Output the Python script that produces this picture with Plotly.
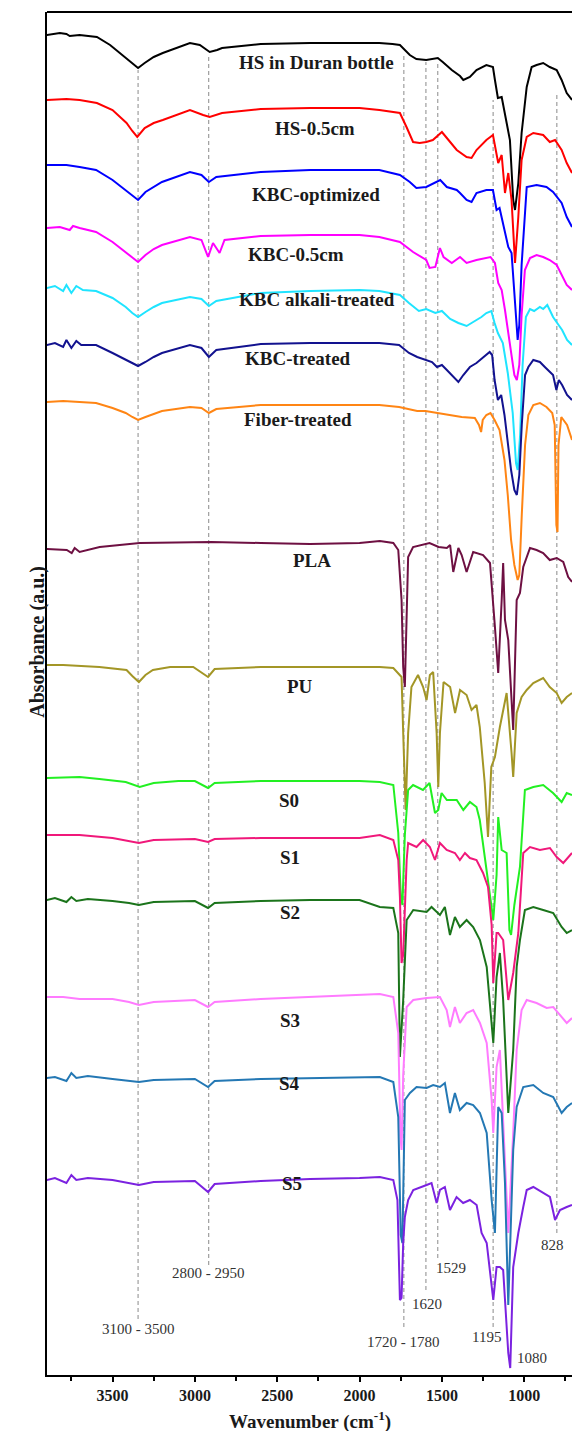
import plotly.graph_objects as go

# ---- data: wavenumber (cm-1) and stacked absorbance (a.u.) ----
hs_duran_x = [3900,3820,3780,3760,3700,3595,3515,3440,3380,3345,3305,3250,3195,3030,2970,2910,2865,2835,2600,2300,2000,1880,1800,1755,1695,1655,1595,1525,1495,1440,1390,1370,1330,1290,1230,1190,1178,1160,1137,1117,1087,1067,1056,1036,1016,985,955,925,885,845,803,773,742,710]
hs_duran_y = [1340,1342,1341,1339,1340,1338,1330,1320,1312,1307,1312,1318,1322,1332,1330,1323,1325,1327,1331,1332,1332,1332,1331,1330,1320,1316,1315,1317,1313,1305,1299,1295,1298,1305,1310,1308,1295,1277,1278,1262,1235,1175,1165,1192,1242,1288,1308,1310,1312,1308,1305,1295,1282,1275]

hs05_x = [3900,3780,3700,3595,3500,3415,3380,3350,3305,3250,3195,3030,2950,2910,2835,2600,2300,2000,1880,1795,1755,1715,1675,1635,1595,1555,1500,1470,1410,1350,1320,1290,1230,1190,1168,1158,1137,1117,1097,1077,1056,1036,1016,985,945,885,845,813,773,742,710]
hs05_y = [1275,1276,1275,1272,1265,1252,1244,1238,1247,1252,1255,1265,1260,1258,1262,1266,1267,1267,1265,1263,1262,1248,1233,1232,1233,1235,1243,1237,1225,1218,1217,1225,1235,1240,1222,1212,1220,1182,1202,1175,1112,1158,1215,1238,1242,1240,1233,1235,1225,1212,1202]

kbc_opt_x = [3900,3780,3700,3600,3500,3420,3380,3345,3300,3250,3200,3030,2960,2915,2870,2600,2300,2000,1880,1755,1695,1655,1595,1510,1470,1410,1390,1350,1320,1290,1230,1190,1168,1150,1117,1097,1077,1056,1040,1030,1016,985,925,865,825,773,742,710]
kbc_opt_y = [1210,1210,1208,1205,1195,1185,1180,1175,1183,1188,1193,1203,1200,1193,1198,1203,1205,1205,1205,1200,1193,1187,1188,1195,1188,1185,1182,1175,1173,1182,1185,1185,1165,1167,1142,1128,1122,1075,1035,1050,1110,1188,1190,1188,1183,1172,1158,1148]

kbc05_x = [3900,3820,3760,3740,3700,3600,3500,3420,3380,3345,3300,3250,3200,3030,2960,2920,2890,2850,2820,2600,2300,2000,1880,1755,1675,1595,1575,1540,1512,1490,1440,1390,1350,1290,1205,1178,1158,1137,1117,1090,1060,1045,1030,1016,996,965,925,885,845,803,773,742,710]
kbc05_y = [1147,1148,1145,1149,1147,1143,1133,1123,1118,1113,1120,1126,1130,1138,1135,1118,1132,1122,1135,1139,1140,1140,1138,1133,1123,1115,1107,1108,1127,1118,1112,1118,1112,1115,1118,1112,1092,1085,1065,1035,1000,995,1010,1060,1105,1117,1120,1118,1115,1110,1100,1090,1085]

kbc_alk_x = [3900,3850,3800,3780,3750,3720,3680,3600,3500,3420,3380,3345,3300,3250,3200,3030,2960,2915,2870,2600,2300,2000,1880,1755,1700,1640,1595,1540,1500,1450,1400,1350,1300,1260,1230,1200,1180,1160,1130,1100,1070,1050,1040,1025,1010,990,965,940,905,885,860,825,800,770,740,710]
kbc_alk_y = [1087,1089,1084,1090,1082,1089,1085,1084,1077,1068,1062,1058,1063,1068,1072,1078,1076,1069,1074,1082,1084,1085,1084,1080,1072,1064,1066,1062,1064,1056,1052,1049,1054,1058,1062,1064,1052,1042,1032,1002,962,912,905,940,1010,1058,1066,1064,1068,1066,1070,1058,1052,1045,1035,1030]

kbc_tr_x = [3900,3850,3800,3780,3750,3720,3690,3600,3500,3420,3380,3345,3300,3250,3200,3030,2960,2915,2870,2600,2300,2000,1880,1760,1700,1650,1600,1560,1530,1500,1470,1420,1400,1370,1330,1290,1250,1210,1195,1180,1160,1140,1120,1100,1080,1060,1045,1030,1015,995,975,945,905,875,845,825,805,790,770,740,710]
kbc_tr_y = [1030,1032,1028,1035,1027,1034,1030,1030,1022,1015,1012,1009,1013,1018,1022,1030,1027,1018,1025,1031,1032,1032,1032,1030,1022,1018,1015,1013,1008,1010,1005,997,993,1000,1008,1012,1018,1023,1020,995,975,980,960,930,905,885,880,900,950,1000,1008,1015,1013,1008,1003,1000,985,995,990,980,975]

fiber_x = [3900,3800,3700,3600,3500,3420,3380,3345,3300,3250,3200,3030,2960,2915,2870,2600,2300,2000,1880,1760,1700,1650,1600,1530,1450,1380,1300,1275,1262,1252,1230,1205,1180,1150,1120,1100,1080,1060,1040,1030,1015,995,975,945,905,865,830,815,805,798,792,775,740,710]
fiber_y = [973,974,973,972,967,962,958,955,958,961,964,968,967,962,966,970,970,970,970,968,966,964,964,962,960,958,957,950,943,955,960,962,955,945,915,880,835,810,795,800,860,930,960,970,972,968,962,950,850,843,930,958,950,935]

pla_x = [3900,3778,3748,3730,3700,3657,3578,3335,3013,2900,2600,2300,2000,1877,1795,1765,1745,1735,1725,1714,1705,1675,1575,1520,1470,1450,1431,1400,1380,1350,1310,1250,1208,1178,1158,1137,1128,1117,1097,1077,1067,1046,1026,1006,965,925,885,845,803,763,733,710]
pla_y = [826,825,822,827,823,825,828,832,833,833,832,831,832,834,832,825,775,708,688,775,818,828,832,828,827,830,803,827,820,803,823,820,812,748,702,775,812,755,735,675,645,775,782,808,827,825,822,815,817,813,798,793]

pu_x = [3900,3800,3580,3415,3380,3340,3300,3255,3150,3010,2920,2880,2600,2300,2000,1877,1795,1745,1735,1720,1705,1685,1645,1614,1593,1573,1553,1532,1522,1512,1490,1450,1420,1390,1350,1320,1290,1270,1240,1220,1200,1178,1148,1107,1077,1067,1046,1016,985,945,885,845,803,773,742,710]
pu_y = [710,710,708,705,699,693,700,705,708,708,698,706,708,708,708,708,707,698,642,565,642,688,700,688,675,700,703,642,588,642,693,688,662,685,680,665,670,648,592,538,608,618,648,682,622,598,662,678,685,692,697,688,682,672,678,682]

s0_x = [3900,3700,3580,3420,3335,3250,3100,3000,2920,2880,2600,2300,2000,1877,1795,1765,1750,1740,1725,1705,1675,1615,1575,1542,1522,1502,1470,1410,1370,1330,1290,1270,1230,1200,1188,1168,1158,1137,1107,1090,1080,1060,1026,996,945,885,825,773,742,710]
s0_y = [597,598,596,593,588,592,594,594,587,592,594,594,594,593,590,542,480,470,540,585,590,585,592,562,565,582,575,575,565,573,568,555,508,470,455,500,558,525,522,445,440,470,508,585,588,590,582,573,582,580]

s1_x = [3900,3700,3500,3400,3340,3250,3000,2920,2880,2600,2300,2000,1877,1795,1765,1755,1745,1735,1714,1705,1654,1614,1573,1542,1512,1471,1421,1391,1360,1330,1290,1250,1220,1198,1188,1168,1158,1128,1097,1067,1036,1006,965,905,844,803,763,710]
s1_y = [540,540,537,534,532,535,536,533,536,537,537,537,540,535,515,478,412,420,515,532,528,535,528,515,532,525,522,515,522,517,515,502,488,450,392,442,442,435,375,402,442,522,528,525,527,518,512,522]

s2_x = [3900,3850,3780,3750,3720,3650,3500,3400,3340,3250,3000,2920,2880,2600,2300,2000,1877,1795,1765,1755,1735,1714,1674,1593,1563,1512,1482,1451,1421,1391,1350,1310,1269,1228,1188,1168,1148,1128,1097,1067,1046,1026,996,945,885,824,773,742,710]
s2_y = [475,477,473,478,474,476,474,472,470,473,474,467,472,474,475,475,468,467,442,318,375,455,465,463,468,460,468,440,458,448,455,448,435,408,332,398,422,375,262,325,408,435,465,468,465,462,448,442,445]

s3_x = [3900,3800,3700,3500,3400,3340,3250,3000,2920,2880,2600,2300,2000,1877,1795,1765,1752,1745,1735,1714,1674,1593,1512,1471,1451,1421,1391,1350,1310,1269,1228,1198,1188,1168,1148,1128,1097,1067,1046,1016,985,925,864,824,773,742,710]
s3_y = [378,378,376,376,373,370,373,375,368,373,376,378,380,381,378,342,240,225,300,368,375,377,378,365,348,368,352,362,365,352,332,275,242,308,325,258,142,242,325,365,375,372,367,368,358,352,357]

s4_x = [3900,3850,3780,3750,3720,3650,3500,3400,3340,3250,3000,2920,2880,2600,2300,2000,1877,1795,1765,1750,1740,1725,1694,1654,1593,1553,1512,1482,1451,1421,1391,1350,1310,1269,1228,1198,1178,1158,1137,1117,1097,1067,1046,1006,945,885,824,773,742,710]
s4_y = [297,298,294,302,297,299,296,294,293,295,296,288,294,296,297,298,298,293,258,140,132,275,282,288,287,290,288,292,262,282,265,272,270,262,242,175,142,268,262,192,70,225,268,288,290,282,278,262,268,272]

s5_x = [3900,3850,3780,3750,3720,3650,3500,3400,3340,3250,3000,2920,2880,2600,2300,2000,1877,1795,1770,1755,1745,1735,1725,1705,1674,1593,1563,1532,1512,1482,1451,1411,1371,1330,1289,1259,1228,1188,1168,1148,1128,1097,1085,1067,1036,1006,985,945,885,844,813,783,742,710]
s5_y = [195,197,192,200,195,197,195,192,190,193,194,183,191,194,196,197,198,195,175,75,77,132,158,175,185,190,192,172,185,188,165,178,172,175,170,142,132,75,108,108,105,22,7,108,142,168,185,188,182,178,155,165,168,170]

names = ["HS in Duran bottle", "HS-0.5cm", "KBC-optimized", "KBC-0.5cm", "KBC alkali-treated",
         "KBC-treated", "Fiber-treated", "PLA", "PU", "S0", "S1", "S2", "S3", "S4", "S5"]
xs = [hs_duran_x, hs05_x, kbc_opt_x, kbc05_x, kbc_alk_x, kbc_tr_x, fiber_x, pla_x, pu_x,
      s0_x, s1_x, s2_x, s3_x, s4_x, s5_x]
ys = [hs_duran_y, hs05_y, kbc_opt_y, kbc05_y, kbc_alk_y, kbc_tr_y, fiber_y, pla_y, pu_y,
      s0_y, s1_y, s2_y, s3_y, s4_y, s5_y]
colors = ["#000000", "#FF0000", "#0000FF", "#FF00FF", "#1FE4FF", "#12128F", "#FF8514",
          "#6E1042", "#A39626", "#22F022", "#F0187A", "#1B741B", "#FF7BFF", "#2478B4", "#7B22E0"]

# curve label positions (wavenumber, a.u.)
label_x = [2259, 2272, 2265, 2387, 2259, 2375, 2375, 2290, 2363, 2430, 2424, 2424, 2424, 2424, 2412]
label_y = [1313, 1247, 1181, 1121, 1076, 1017, 956, 815, 689, 575, 518, 463, 355, 292, 192]

# band markers
band_x = [3345, 2916, 1731, 1597, 1525, 1189, 802]
band_top = [1305, 1320, 1320, 1313, 1313, 1275, 1282]
band_bottom = [56, 110, 48, 85, 117, 48, 142]
band_text = ["3100 - 3500", "2800 - 2950", "1720 - 1780", "1620", "1529", "1195", "1080", "828"]
band_text_x = [3345, 2916, 1731, 1593, 1445, 1227, 955, 826]
band_text_y = [46, 102, 33, 71, 107, 38, 17, 130]

x_ticks = [3500, 3000, 2500, 2000, 1500, 1000]
x_minor = [3750, 3250, 2750, 2250, 1750, 1250, 750]

SERIF = "Liberation Serif, Times New Roman, serif"

fig = go.Figure()
for n, x, y, c in zip(names, xs, ys, colors):
    fig.add_trace(go.Scatter(x=x, y=y, mode="lines", name=n,
                             line=dict(color=c, width=2), hoverinfo="skip"))

for bx, t, b in zip(band_x, band_top, band_bottom):
    fig.add_shape(type="line", xref="x", yref="y", x0=bx, x1=bx, y0=b, y1=t,
                  line=dict(color="#8a8a8a", width=1, dash="4px,3px"), layer="below")

for t, x, y in zip(band_text, band_text_x, band_text_y):
    fig.add_annotation(x=x, y=y, xref="x", yref="y", text=t, showarrow=False,
                       font=dict(family=SERIF, size=15, color="#333333"))

for n, x, y in zip(names, label_x, label_y):
    fig.add_annotation(x=x, y=y, xref="x", yref="y", text="<b>%s</b>" % n, showarrow=False,
                       font=dict(family=SERIF, size=19, color="#1a1a1a"))

# top frame line
fig.add_shape(type="line", xref="paper", yref="paper", x0=0, x1=1, y0=1, y1=1,
              line=dict(color="black", width=2))

fig.add_annotation(xref="paper", yref="paper", x=0.5, y=0, yshift=-31, yanchor="top",
                   text="<b>Wavenumber (cm<sup>-1</sup>)</b>", showarrow=False,
                   font=dict(family=SERIF, size=19, color="#1a1a1a"))
fig.add_annotation(xref="paper", yref="paper", x=0, xshift=-23, y=0.5376,
                   text="<b>Absorbance (a.u.)</b>", textangle=-90, showarrow=False,
                   font=dict(family=SERIF, size=20, color="#1a1a1a"))

fig.update_layout(
    width=572, height=1431,
    margin=dict(l=47, r=0, t=12, b=56),
    paper_bgcolor="white", plot_bgcolor="white",
    showlegend=False, hovermode=False,
    xaxis=dict(range=[3898, 710], showgrid=False, zeroline=False,
               showline=True, linecolor="black", linewidth=2,
               tickmode="array", tickvals=x_ticks, ticks="outside", ticklen=5,
               tickwidth=1.5, tickcolor="black",
               tickfont=dict(family=SERIF, size=16, color="#1a1a1a", weight="bold"),
               minor=dict(tickmode="array", tickvals=x_minor, ticks="outside",
                          ticklen=4, tickwidth=1.5, tickcolor="black")),
    yaxis=dict(range=[0, 1363], showgrid=False, zeroline=False, showticklabels=False,
               ticks="", showline=True, linecolor="black", linewidth=2),
)

fig.write_html("out.html", config={"displayModeBar": False},
               post_script="document.body.style.margin='0';document.body.style.overflow='hidden';")
